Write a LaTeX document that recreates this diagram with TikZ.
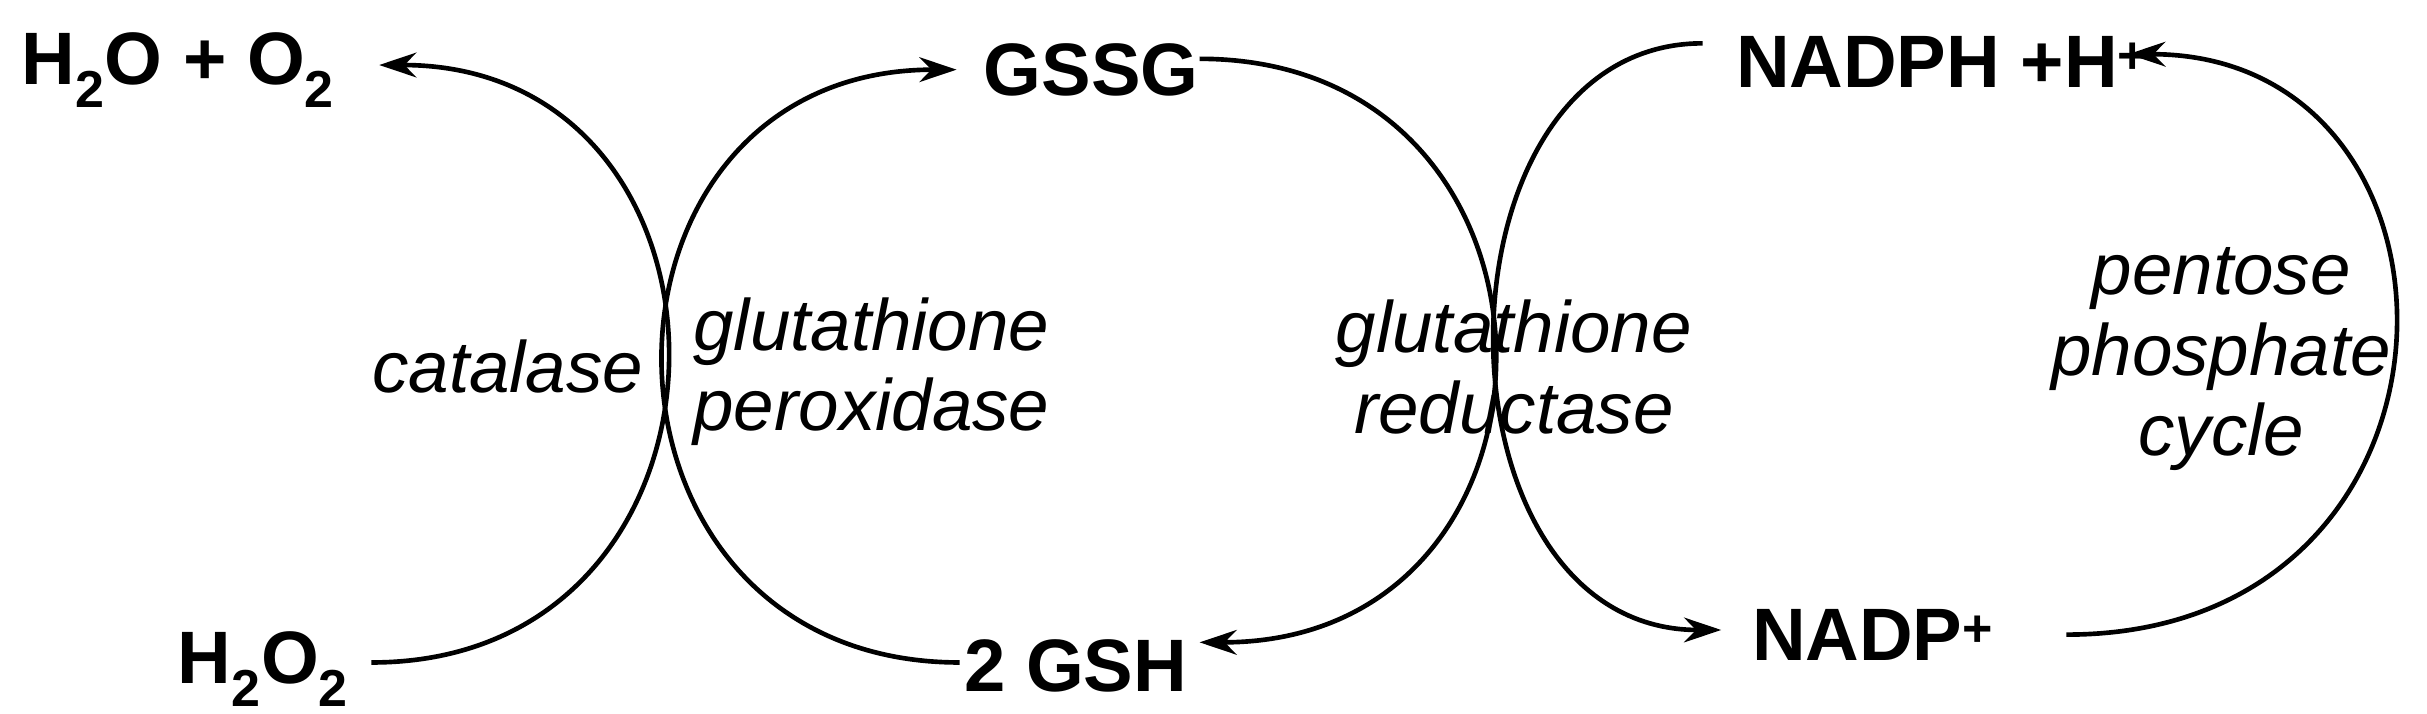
\documentclass[tikz,border=0pt]{standalone}
\usepackage{fontspec}
\setmainfont{Liberation Sans}
\usetikzlibrary{arrows.meta}
\newcommand{\sbs}[1]{\textsubscript{#1}}
\newcommand{\sps}[1]{\textsuperscript{#1}}
\begin{document}
\begin{tikzpicture}[x=1pt,y=-1pt,
  chem/.style={font=\fontsize{48}{52}\selectfont\bfseries,inner sep=2pt},
  enz/.style={font=\fontsize{47}{52}\selectfont\itshape,align=center,inner sep=0pt},
  arc/.style={line width=3pt},
  tip/.style={arc,-{Stealth[length=24pt,width=16pt]}}]
\useasboundingbox (0,0) rectangle (1568,461);
\node[chem] (hoo) at (115,45) {H\sbs{2}O + O\sbs{2}};
\node[chem] (hh) at (170,432) {H\sbs{2}O\sbs{2}};
\node[chem] (gssg) at (705,45) {GSSG};
\node[chem] (gsh) at (695,430) {2 GSH};
\node[chem] (nadph) at (1255,40) {NADPH +H\sps{+}};
\node[chem] (nadp) at (1210,410) {NADP\sps{+}};
\node[enz] (cat) at (328,237) {catalase};
\node[enz] (gp) at (563,240) {glutathione\\peroxidase};
\node[enz] (gr) at (978,237) {glutathione\\reductase};
\node[enz] (ppc) at (1435,232) {pentose\\phosphate\\cycle};
\coordinate (a1) at (240,428); \coordinate (b1) at (245,42);
\draw[tip] (a1) .. controls (493,428) and (493,42) .. (b1);
\coordinate (a2) at (620,428); \coordinate (b2) at (618,45);
\draw[tip] (a2) .. controls (366,428) and (366,45) .. (b2);
\coordinate (a3) at (775,38); \coordinate (b3) at (775,415);
\draw[tip] (a3) .. controls (1028,38) and (1028,415) .. (b3);
\coordinate (a4) at (1100,28); \coordinate (b4) at (1112,407);
\draw[tip] (a4) .. controls (920,28) and (920,407) .. (b4);
\coordinate (a5) at (1335,410); \coordinate (b5) at (1375,35);
\draw[tip] (a5) .. controls (1610,410) and (1610,35) .. (b5);
\end{tikzpicture}
\end{document}
